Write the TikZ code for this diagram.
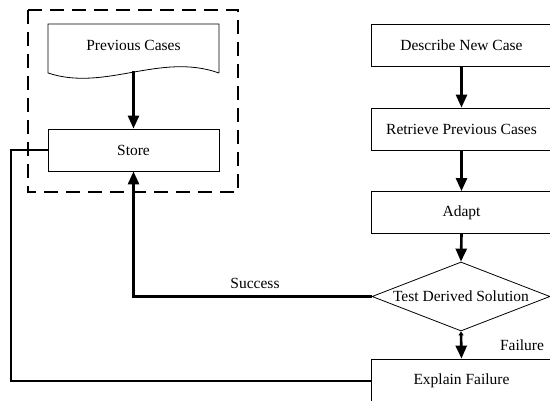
\documentclass[tikz,border=0pt]{standalone}
\usepackage{fontspec}
\setmainfont{Liberation Serif}
\usetikzlibrary{arrows.meta,shapes.geometric}
\begin{document}
\begin{tikzpicture}[x=1pt,y=-1pt,
  font=\fontsize{15.5}{18}\selectfont,
  box/.style={draw,line width=0.8pt,rectangle,inner sep=0pt,minimum width=171pt,minimum height=42pt},
  rbox/.style={draw,line width=0.8pt,rectangle,inner sep=0pt,minimum width=181pt,minimum height=42pt},
  conn/.style={line width=2.4pt},
  arr/.style={line width=2.6pt,-{Triangle[length=13pt,width=11pt]}}]
\clip (0,0) rectangle (550,401);
\fill[white] (0,0) rectangle (550,401);
% dashed group
\draw[line width=2.8pt,dash pattern=on 14pt off 8pt] (28,10) rectangle (238,192);
% document shape
\draw[line width=0.8pt] (219,73) -- (219,24) -- (48,24) -- (48,73)
  .. controls (105,92) and (160,52) .. (219,73);
\node (prev) at (133.5,45) {Previous Cases};
\coordinate (prevB) at (133.5,71);
\node[box] (store) at (133.5,150) {Store};
% right column
\node[rbox] (desc) at (461.5,45) {Describe New Case};
\node[rbox] (retr) at (461.5,129) {Retrieve Previous Cases};
\node[rbox] (adapt) at (461.5,212.5) {Adapt};
\node[draw,line width=0.8pt,diamond,inner sep=0pt,aspect=2.58,minimum width=178pt,minimum height=69pt] (test) at (461,296.5) {Test Derived Solution};
\node[rbox,minimum height=44pt] (explain) at (461.5,381) {Explain Failure};
% connectors
\draw[arr] (prevB) -- (store.north);
\draw[arr] (desc.south) -- (retr.north);
\draw[arr] (retr.south) -- (adapt.north);
\draw[arr] (adapt.south) -- (test.north);
\draw[conn,line width=2.6pt,{Triangle[length=4pt,width=5pt]}-{Triangle[length=13pt,width=11pt]}] (test.south) -- (explain.north);
\draw[arr] (test.west) -| (store.south);
\draw[conn] (store.west) -- (11,150) |- (explain.west);
% labels
\node (succ) at (255,283) {Success};
\node (fail) at (522,345) {Failure};
\end{tikzpicture}
\end{document}
